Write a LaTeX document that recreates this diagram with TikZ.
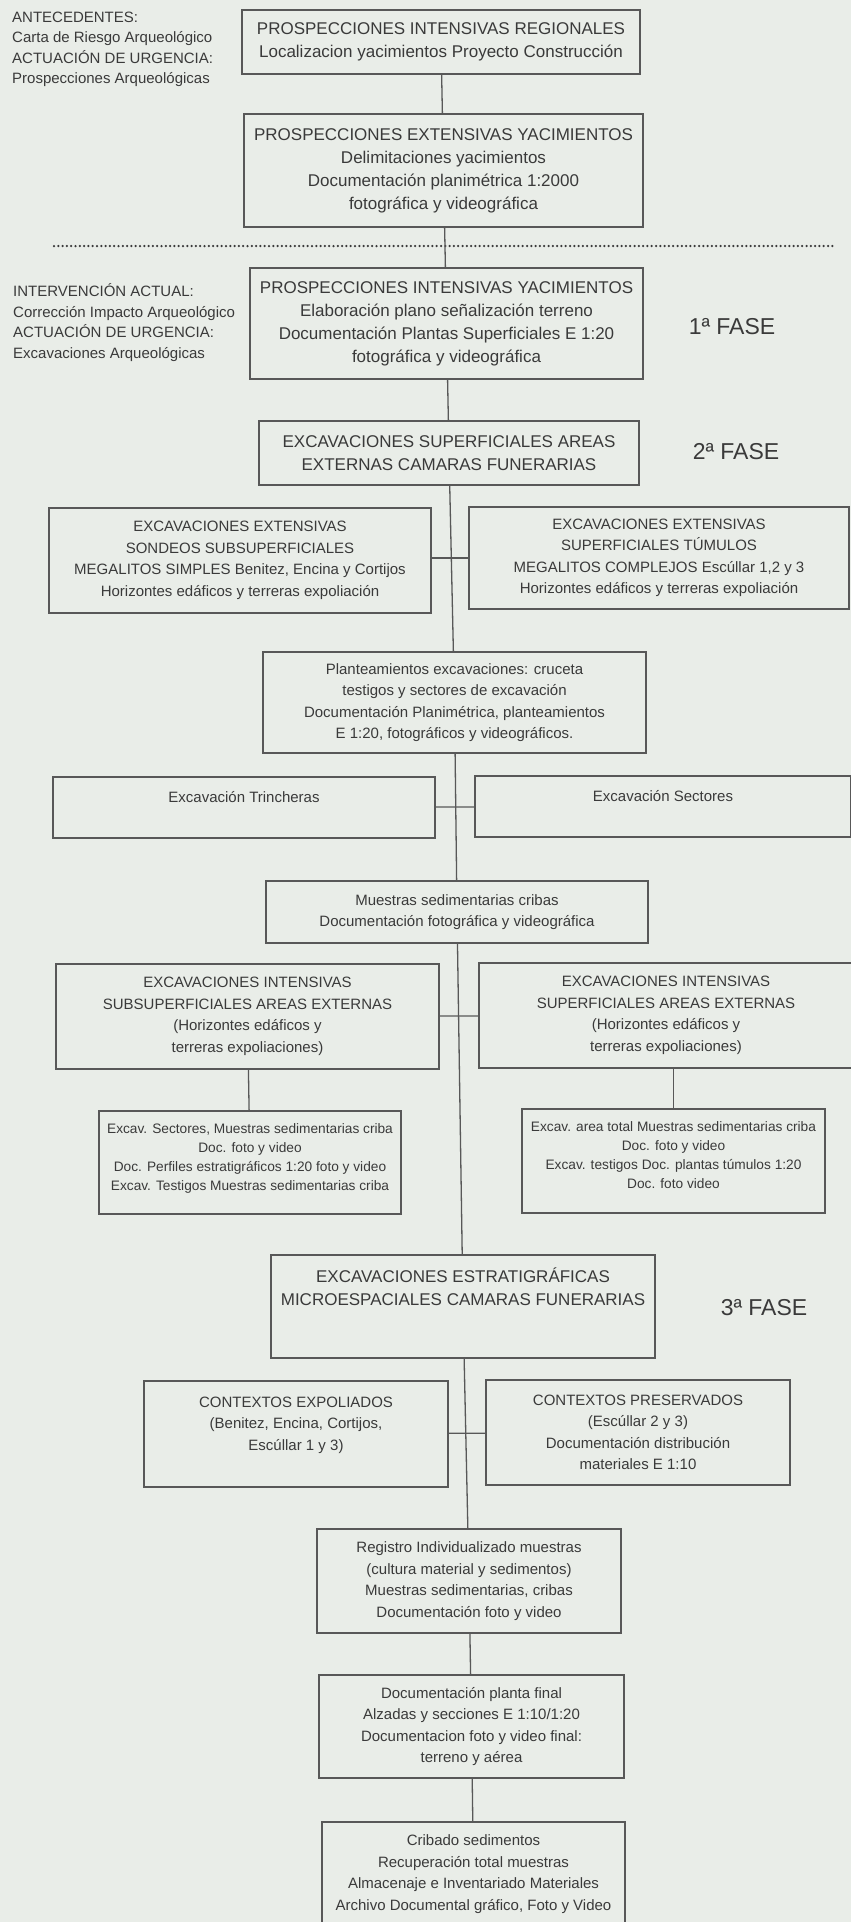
\documentclass[tikz,border=0pt]{standalone}
\usepackage{fontspec}
\setmainfont{Liberation Sans}
\definecolor{fondo}{RGB}{233,237,232}
\definecolor{tinta}{RGB}{58,58,58}
\definecolor{trazo}{RGB}{88,88,88}

\begin{document}
\begin{tikzpicture}[x=1pt,y=-1pt,
  caja/.style={draw=trazo,line width=1.3pt,align=center,inner sep=0pt,text=tinta},
  grande/.style={font=\fontsize{17}{23}\selectfont},
  media/.style={font=\fontsize{15}{21.5}\selectfont},
  chica/.style={font=\fontsize{13.7}{19}\selectfont},
  nota/.style={anchor=north west,align=left,inner sep=0pt,text=tinta,font=\fontsize{15}{20.5}\selectfont},
  fase/.style={text=tinta,font=\fontsize{23}{23}\selectfont},
  enlace/.style={line width=1.3pt,color=trazo}]
\fill[color=fondo] (0, 0) rectangle (851, 1922);
\useasboundingbox (0, 0) rectangle (851, 1922);

\node[nota] (antecedentes) at (12, 11.5) {ANTECEDENTES:\\Carta de Riesgo Arqueológico\\ACTUACIÓN DE URGENCIA:\\Prospecciones Arqueológicas};
\node[nota] (intervencion) at (13, 283.5) {INTERVENCIÓN ACTUAL:\\Corrección Impacto Arqueológico\\ACTUACIÓN DE URGENCIA:\\Excavaciones Arqueológicas};

\node[caja,grande,minimum width=398,minimum height=64] (pir) at (441, 42) {PROSPECCIONES INTENSIVAS REGIONALES\\Localizacion yacimientos Proyecto Construcción};
\node[caja,grande,minimum width=399,minimum height=113] (pey) at (443.5, 170.5) {PROSPECCIONES EXTENSIVAS YACIMIENTOS\\Delimitaciones yacimientos\\Documentación planimétrica 1:2000\\fotográfica y videográfica};
\node[caja,grande,minimum width=393,minimum height=111] (piy) at (446.5, 323.5) {PROSPECCIONES INTENSIVAS YACIMIENTOS\\Elaboración plano señalización terreno\\Documentación Plantas Superficiales E 1:20\\fotográfica y videográfica};
\node[caja,grande,minimum width=380,minimum height=64] (esa) at (449, 453) {EXCAVACIONES SUPERFICIALES AREAS\\EXTERNAS CAMARAS FUNERARIAS};

\node[caja,media,minimum width=382,minimum height=105] (sondeos) at (240, 560.5) {EXCAVACIONES EXTENSIVAS\\SONDEOS SUBSUPERFICIALES\\MEGALITOS SIMPLES Benitez, Encina y Cortijos\\Horizontes edáficos y terreras expoliación};
\node[caja,media,minimum width=380,minimum height=102] (tumulos) at (659, 558) {EXCAVACIONES EXTENSIVAS\\SUPERFICIALES TÚMULOS\\MEGALITOS COMPLEJOS Escúllar 1,2 y 3\\Horizontes edáficos y terreras expoliación};

\node[caja,media,minimum width=383,minimum height=101] (plan) at (454.5, 702.5) {Planteamientos excavaciones: cruceta\\testigos y sectores de excavación\\Documentación Planimétrica, planteamientos\\E 1:20, fotográficos y videográficos.};

\node[caja,media,minimum width=382,minimum height=61] (trincheras) at (244, 807.5) {Excavación Trincheras\\\mbox{}};
\node[caja,media,minimum width=376,minimum height=61] (sectores) at (663, 806.5) {Excavación Sectores\\\mbox{}};

\node[caja,media,minimum width=382,minimum height=62] (muestras) at (457, 912) {Muestras sedimentarias cribas\\Documentación fotográfica y videográfica};

\node[caja,media,minimum width=383,minimum height=105] (subsup) at (247.5, 1016.5) {EXCAVACIONES INTENSIVAS\\SUBSUPERFICIALES AREAS EXTERNAS\\(Horizontes edáficos y\\terreras expoliaciones)};
\node[caja,media,minimum width=374,minimum height=105] (supext) at (666, 1015.5) {EXCAVACIONES INTENSIVAS\\SUPERFICIALES AREAS EXTERNAS\\(Horizontes edáficos y\\terreras expoliaciones)};

\node[caja,chica,minimum width=302,minimum height=103] (excavsub) at (250, 1162.5) {Excav. Sectores, Muestras sedimentarias criba\\Doc. foto y video\\Doc. Perfiles estratigráficos 1:20 foto y video\\Excav. Testigos Muestras sedimentarias criba\\[-8pt]\mbox{}};
\node[caja,chica,minimum width=303,minimum height=104] (excavsup) at (673.5, 1161) {Excav. area total Muestras sedimentarias criba\\Doc. foto y video\\Excav. testigos Doc. plantas túmulos 1:20\\Doc. foto video\\[-8pt]\mbox{}};

\node[caja,grande,minimum width=384,minimum height=103] (estrat) at (463, 1306.5) {EXCAVACIONES ESTRATIGRÁFICAS\\MICROESPACIALES CAMARAS FUNERARIAS\\[16pt]\mbox{}};

\node[caja,media,minimum width=304,minimum height=106] (expoliados) at (296, 1434) {CONTEXTOS EXPOLIADOS\\(Benitez, Encina, Cortijos,\\Escúllar 1 y 3)\\\mbox{}};
\node[caja,media,minimum width=304,minimum height=105] (preservados) at (638, 1432.5) {CONTEXTOS PRESERVADOS\\(Escúllar 2 y 3)\\Documentación distribución\\materiales E 1:10};

\node[caja,media,minimum width=304,minimum height=104] (registro) at (469, 1581) {Registro Individualizado muestras\\(cultura material y sedimentos)\\Muestras sedimentarias, cribas\\Documentación foto y video};
\node[caja,media,minimum width=305,minimum height=103] (planta) at (471.5, 1726.5) {Documentación planta final\\Alzadas y secciones E 1:10/1:20\\Documentacion foto y video final:\\terreno y aérea};
\node[caja,media,minimum width=303,minimum height=104] (cribado) at (473.5, 1874) {Cribado sedimentos\\Recuperación total muestras\\Almacenaje e Inventariado Materiales\\Archivo Documental gráfico, Foto y Video};

\node[fase] (fase1) at (732, 327) {1ª FASE};
\node[fase] (fase2) at (736, 452) {2ª FASE};
\node[fase] (fase3) at (764, 1308) {3ª FASE};

\draw[line width=2.5pt,color=tinta,line cap=round,dash pattern=on 0pt off 4.3pt] (54, 246) -- (836, 246);

\draw[enlace] (pir) -- (pey);
\draw[enlace] (pey) -- (piy);
\draw[enlace] (piy) -- (esa);
\draw[enlace] (esa) -- (plan);
\draw[enlace] (sondeos.east |- tumulos.west) -- (tumulos.west);
\draw[enlace] (plan) -- (muestras);
\draw[enlace] (trincheras) -- (sectores);
\draw[enlace] (muestras) -- (estrat);
\draw[enlace] (subsup) -- (supext);
\draw[enlace] (subsup) -- (excavsub);
\draw[enlace] (excavsup.north) -- (excavsup.north |- supext.south);
\draw[enlace] (estrat) -- (registro);
\draw[enlace] (expoliados) -- (preservados);
\draw[enlace] (registro) -- (planta);
\draw[enlace] (planta) -- (cribado);
\end{tikzpicture}
\end{document}
